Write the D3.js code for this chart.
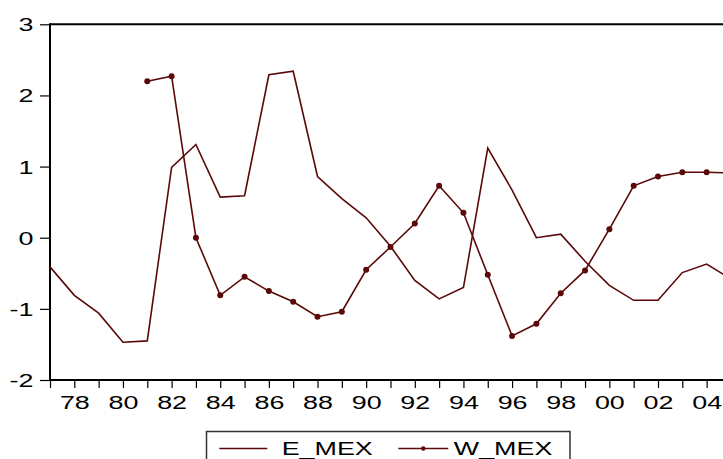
<!DOCTYPE html>
<html>
<head>
<meta charset="utf-8">
<script src="https://cdn.jsdelivr.net/npm/d3@7"></script>
<style>
  html, body { margin: 0; padding: 0; background: #fff; }
  svg { display: block; }
  text { font-family: "Liberation Sans", Arial, sans-serif; fill: #000; }
</style>
</head>
<body>
<svg id="chart" width="723" height="459"></svg>
<script>
// Annual observations, 1977-2005
const years = d3.range(1977, 2006);

const eMex = [-0.41, -0.81, -1.06, -1.47, -1.45, 0.99, 1.31, 0.57, 0.59, 2.29,
              2.34, 0.86, 0.55, 0.28, -0.12, -0.60, -0.86, -0.70, 1.26, 0.67,
              0.00, 0.05, -0.33, -0.67, -0.88, -0.88, -0.49, -0.37, -0.58];

const wMex = [null, null, null, null, 2.20, 2.27, 0.00, -0.81, -0.55, -0.75,
              -0.90, -1.11, -1.04, -0.45, -0.13, 0.20, 0.73, 0.35, -0.52, -1.38,
              -1.21, -0.78, -0.46, 0.12, 0.73, 0.86, 0.92, 0.92, 0.91];

const yTicks = [-2, -1, 0, 1, 2, 3];
const seriesNames = ["E_MEX", "W_MEX"];

const lineColor = "#5a0808";
const fontSize = 18.8;
const stretch = 1.43;

const svg = d3.select("#chart");

const x = d3.scaleLinear().domain([1977, 2005]).range([50, 50 + 28 * 24.32]);
const y = d3.scaleLinear().domain([-2, 3]).range([380, 24.3]);

// Frame: top edge
svg.append("line")
  .attr("x1", x(1977)).attr("x2", x(2005) + 5)
  .attr("y1", y(3)).attr("y2", y(3))
  .attr("stroke", "#000").attr("stroke-width", 2);

// Left axis
const yAxis = svg.append("g")
  .attr("transform", `translate(${x(1977)},0)`)
  .call(d3.axisLeft(y).tickValues(yTicks).tickSize(10).tickPadding(0).tickFormat(d3.format("d")));
yAxis.select(".domain").attr("stroke", "#000").attr("stroke-width", 2)
  .attr("d", `M0,${y(-2) + 1}V${y(3) - 1}`);
yAxis.selectAll(".tick line").attr("stroke", "#000").attr("stroke-width", 1.2);
yAxis.selectAll(".tick text")
  .attr("x", null).attr("dy", null)
  .attr("dominant-baseline", "central")
  .attr("text-anchor", "end")
  .attr("font-size", fontSize)
  .attr("transform", `translate(-16.5,0) scale(${stretch},1)`)
  .text(d => String(d));

// Bottom axis: a tick for every year, labels on even years
const xAxis = svg.append("g")
  .attr("transform", `translate(0,${y(-2)})`)
  .call(d3.axisBottom(x).tickValues(years).tickSize(8).tickPadding(0)
    .tickFormat(d => (d % 2 === 0 ? String(d).slice(2) : "")));
xAxis.select(".domain").attr("stroke", "#000").attr("stroke-width", 2)
  .attr("d", `M${x(1977) - 1},0H${x(2005) + 5}`);
xAxis.selectAll(".tick line").attr("stroke", "#000").attr("stroke-width", 1.2);
xAxis.selectAll(".tick text")
  .attr("y", null).attr("dy", null)
  .attr("text-anchor", "middle")
  .attr("font-size", fontSize)
  .attr("transform", `translate(0,29.3) scale(${stretch},1)`);

// Series lines
const line = d3.line()
  .defined(d => d.v !== null)
  .x(d => x(d.year))
  .y(d => y(d.v));

const eData = years.map((yr, i) => ({ year: yr, v: eMex[i] }));
const wData = years.map((yr, i) => ({ year: yr, v: wMex[i] }));

svg.append("path")
  .datum(eData)
  .attr("fill", "none")
  .attr("stroke", lineColor)
  .attr("stroke-width", 1.6)
  .attr("d", line);

svg.append("path")
  .datum(wData)
  .attr("fill", "none")
  .attr("stroke", lineColor)
  .attr("stroke-width", 1.6)
  .attr("d", line);

svg.append("g").selectAll("circle")
  .data(wData.filter(d => d.v !== null))
  .join("circle")
  .attr("cx", d => x(d.year))
  .attr("cy", d => y(d.v))
  .attr("r", 3)
  .attr("fill", lineColor);

// Legend
const legend = svg.append("g");
legend.append("rect")
  .attr("x", 206.5).attr("y", 431.5)
  .attr("width", 363.5).attr("height", 40)
  .attr("fill", "#fff")
  .attr("stroke", "#333").attr("stroke-width", 1.5);

const legendItems = [
  { name: seriesNames[0], x0: 219.3, x1: 267.3, tx: 281.7, marker: false },
  { name: seriesNames[1], x0: 398.3, x1: 448.3, tx: 453.8, marker: true }
];
legendItems.forEach(it => {
  legend.append("line")
    .attr("x1", it.x0).attr("x2", it.x1)
    .attr("y1", 448.5).attr("y2", 448.5)
    .attr("stroke", lineColor).attr("stroke-width", 1.3);
  if (it.marker) {
    legend.append("circle")
      .attr("cx", (it.x0 + it.x1) / 2).attr("cy", 448.5)
      .attr("r", 2.2).attr("fill", lineColor);
  }
  legend.append("text")
    .attr("font-size", fontSize)
    .attr("transform", `translate(${it.tx},454.6) scale(${stretch},0.96)`)
    .text(it.name);
});
</script>
</body>
</html>
